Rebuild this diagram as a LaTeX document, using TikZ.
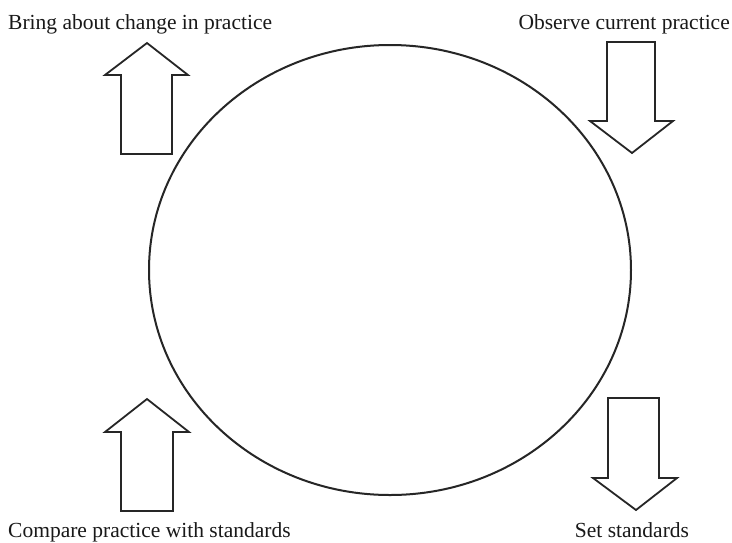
\documentclass[tikz,border=0pt]{standalone}
\usepackage{fontspec}
\setmainfont{Liberation Serif}
\begin{document}
\begin{tikzpicture}[x=1pt,y=-1pt,
  outline/.style={draw=black!85, line width=1.8pt, line join=miter},
  label/.style={font=\fontsize{21.5}{24}\selectfont, text=black!90, inner sep=0pt}]
\useasboundingbox (0,0) rectangle (732,542);
\fill[white] (0,0) rectangle (732,542);

% the cycle
\draw[black!85, line width=2pt] (390,270) ellipse [x radius=241, y radius=225];

% upward block arrows (left side)
\draw[outline] (121,154) -- (121,75) -- (105,75) -- (147,43) -- (188,75) -- (172,75) -- (172,154) -- cycle;
\draw[outline] (121,511) -- (121,432) -- (105,432) -- (147,399) -- (189,432) -- (173,432) -- (173,511) -- cycle;

% downward block arrows (right side)
\draw[outline] (607,42) -- (607,121) -- (590,121) -- (632,153) -- (673,121) -- (655,121) -- (655,42) -- cycle;
\draw[outline] (608,398) -- (608,478) -- (593,478) -- (636,510) -- (677,478) -- (659,478) -- (659,398) -- cycle;

% stage labels
\node[label, anchor=base west] (bring) at (8,29) {Bring about change in practice};
\node[label, anchor=base east] (observe) at (730,29) {Observe current practice};
\node[label, anchor=base west] (compare) at (8,537) {Compare practice with standards};
\node[label, anchor=base] (set) at (632,537) {Set standards};
\end{tikzpicture}
\end{document}
